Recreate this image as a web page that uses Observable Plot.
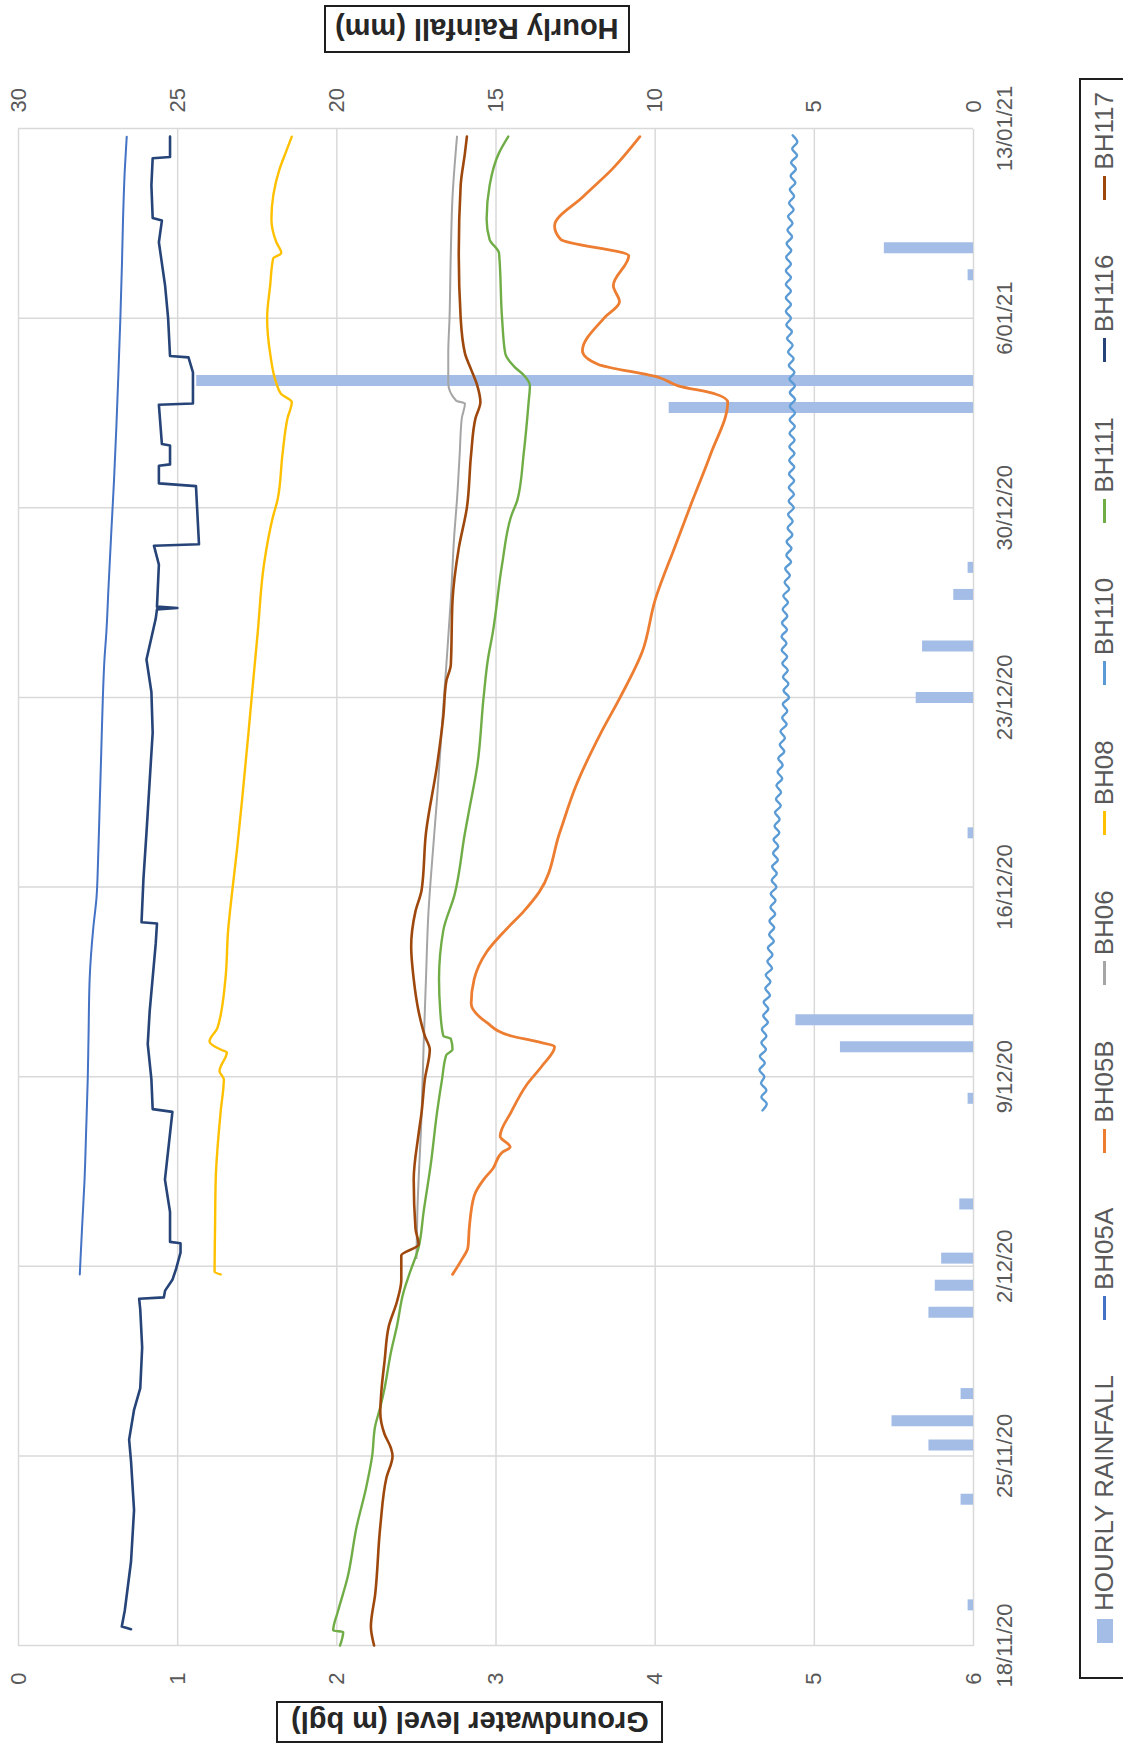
<!DOCTYPE html>
<html>
<head>
<meta charset="utf-8">
<script src="https://cdn.jsdelivr.net/npm/d3@7"></script>
<script src="https://cdn.jsdelivr.net/npm/@observablehq/plot@0.6"></script>
<style>
  html, body { margin: 0; padding: 0; background: #fff; width: 1123px; height: 1760px; overflow: hidden; }
  /* the sheet is laid out landscape and turned a quarter turn onto the portrait page */
  #sheet { position: absolute; left: 0; top: 0; width: 1760px; height: 1123px; background: #fff;
           transform-origin: 0 0; transform: translate(0, 1760px) rotate(-90deg);
           font-family: "Liberation Sans", Arial, sans-serif; color: #595959; }
  #chart { position: absolute; left: 0; top: 0; }
  .axis-title { position: absolute; box-sizing: border-box; border: 2px solid #1e1e1e; background: #fff;
                display: flex; align-items: center; justify-content: center; }
  .axis-title span { writing-mode: vertical-rl; transform: rotate(180deg); white-space: nowrap;
                     font-weight: bold; font-size: 29px; color: #262626; }
  #legend { position: absolute; left: 81px; top: 1079px; width: 1601px; height: 70px; box-sizing: border-box;
            border: 2px solid #1e1e1e; border-bottom: none; display: flex; align-items: flex-start;
            justify-content: space-between; padding: 8px 12px 0 34px; font-size: 26px; color: #595959; }
  .item { display: flex; align-items: center; white-space: nowrap; }
  .sw { display: inline-block; width: 24px; height: 16px; margin-right: 8px; }
  .ln { display: inline-block; width: 24px; height: 3px; margin-right: 6px; }
</style>
</head>
<body>
<div id="sheet">
  <div id="chart"></div>
  <div class="axis-title" style="left:17px; top:276px; width:42px; height:387px;"><span>Groundwater level (m bgl)</span></div>
  <div class="axis-title" style="left:1707px; top:324px; width:48px; height:306px;"><span>Hourly Rainfall (mm)</span></div>
  <div id="legend"></div>
</div>
<script>
// Monitoring period: 18 Nov 2020 to 13 Jan 2021; times are days after the start.
const startDate = Date.UTC(2020, 10, 18);
const dateTicks = [0, 7, 14, 21, 28, 35, 42, 49, 56];
const levelTicks = [0, 1, 2, 3, 4, 5, 6];
const rainPerMetre = 5; // 1 m on the level axis = 5 mm on the rainfall axis

// Hourly rainfall totals: [day, mm]
const rainfall = [
  [1.5, 0.17], [5.4, 0.39], [7.4, 1.4], [8.3, 2.56], [9.3, 0.39], [12.3, 1.4], [13.3, 1.2],
  [14.3, 1.0], [16.3, 0.43], [20.2, 0.17], [22.1, 4.18], [23.1, 5.58], [30.0, 0.17],
  [35.0, 1.8], [36.9, 1.6], [38.8, 0.62], [39.8, 0.17], [45.7, 9.56], [46.7, 24.4],
  [50.6, 0.17], [51.6, 2.8]
];

// Groundwater levels, metres below ground: [day, m bgl]
const bh05a = [
  [13.7, 0.385], [15.5, 0.40], [17.2, 0.415], [19, 0.425], [20.9, 0.435], [22.5, 0.44], [24.6, 0.447],
  [26.5, 0.47], [27.6, 0.49], [29, 0.50], [31, 0.51], [33, 0.52], [35, 0.53], [36.4, 0.54],
  [37.4, 0.552], [39, 0.565], [41.1, 0.583], [43, 0.60], [45, 0.615], [47, 0.628], [49, 0.64],
  [51, 0.65], [52.7, 0.657], [54.5, 0.668], [55.7, 0.68]
];
const bh05b = [
  [13.7, 2.727], [14.2, 2.78], [14.7, 2.824], [15.4, 2.832], [16.6, 2.863], [17.2, 2.922], [17.6, 2.98],
  [18.2, 3.038], [18.4, 3.089], [18.8, 3.026], [19.7, 3.096], [20.7, 3.193], [21.4, 3.29], [22.1, 3.368],
  [22.3, 3.252], [22.5, 3.096], [23.0, 2.941], [23.7, 2.844], [24.6, 2.863], [25.6, 2.941], [26.4, 3.058],
  [27.1, 3.174], [27.8, 3.27], [30, 3.40], [31.7, 3.50], [33.7, 3.66], [35, 3.78], [36.7, 3.92],
  [38.6, 4.0], [40.5, 4.12], [42.2, 4.23], [44, 4.35], [45.9, 4.456], [46.2, 4.378], [46.5, 4.145],
  [46.8, 4.029], [47.3, 3.64], [47.8, 3.543], [49, 3.679], [49.6, 3.776], [50.2, 3.737], [51.3, 3.834],
  [51.9, 3.407], [52.4, 3.368], [53.5, 3.55], [54.5, 3.73], [55.7, 3.904]
];
const bh06 = [
  [14.3, 2.50], [16, 2.506], [19.7, 2.533], [22.1, 2.545], [24.6, 2.56], [27.1, 2.576], [28.3, 2.59],
  [31.3, 2.63], [34, 2.661], [36.2, 2.688], [38.6, 2.716], [41.1, 2.739], [42.3, 2.755], [44, 2.772],
  [45.3, 2.785], [45.85, 2.805], [45.95, 2.75], [46.6, 2.70], [47.7, 2.70], [49, 2.708], [51.4, 2.716],
  [53.5, 2.727], [55.7, 2.755]
];
const bh08 = [
  [13.7, 1.27], [13.8, 1.232], [15.5, 1.235], [17.2, 1.239], [19.7, 1.27], [20.9, 1.29], [21.2, 1.263],
  [21.9, 1.309], [22.0, 1.27], [22.3, 1.20], [22.8, 1.25], [24.6, 1.30], [26.4, 1.317], [27.7, 1.34],
  [29.5, 1.375], [31.3, 1.406], [33.7, 1.445], [35, 1.465], [37.4, 1.503], [39.9, 1.542], [41.7, 1.60],
  [42.3, 1.628], [44.0, 1.659], [45.3, 1.69], [45.9, 1.717], [46.2, 1.65], [46.6, 1.62], [47.7, 1.581],
  [49, 1.562], [50.2, 1.581], [51.2, 1.60], [51.4, 1.651], [51.8, 1.62], [52.65, 1.589], [54.5, 1.64],
  [55.1, 1.678], [55.7, 1.717]
];
// BH110 is logged every 6 hours from day 19.75 and shows the tidal swing
const bh110Start = 19.75;
const bh110Step = 0.25;
const bh110 = [
  4.674,
  4.701, 4.667, 4.699, 4.665,  4.686, 4.655, 4.689, 4.658,  4.696, 4.667, 4.699, 4.670,
  4.708, 4.679, 4.711, 4.682,  4.721, 4.692, 4.724, 4.695,  4.734, 4.705, 4.737, 4.708,
  4.746, 4.716, 4.748, 4.718,  4.754, 4.724, 4.756, 4.726,  4.762, 4.732, 4.764, 4.735,
  4.771, 4.741, 4.773, 4.744,  4.780, 4.750, 4.782, 4.753,  4.789, 4.759, 4.791, 4.762,
  4.798, 4.769, 4.801, 4.773,  4.811, 4.783, 4.815, 4.787,  4.826, 4.798, 4.830, 4.802,
  4.841, 4.807, 4.837, 4.803,  4.833, 4.799, 4.829, 4.795,  4.825, 4.794, 4.828, 4.797,
  4.830, 4.801, 4.834, 4.805,  4.842, 4.813, 4.846, 4.817,  4.854, 4.824, 4.856, 4.826,
  4.862, 4.832, 4.864, 4.835,  4.871, 4.839, 4.872, 4.840,  4.873, 4.841, 4.874, 4.842,
  4.875, 4.843, 4.876, 4.844,  4.877, 4.845, 4.878, 4.846,  4.879, 4.846, 4.878, 4.844,
  4.875, 4.840, 4.870, 4.835,  4.864, 4.829, 4.859, 4.824,  4.853, 4.821, 4.853, 4.821,
  4.853, 4.821, 4.853, 4.821,  4.853, 4.823, 4.855, 4.826,  4.860, 4.831, 4.863, 4.835,
  4.870, 4.841, 4.873, 4.846,  4.881, 4.851, 4.884, 4.854,  4.891, 4.861, 4.893, 4.864
];
const bh111 = [
  [0, 2.02], [0.5, 2.04], [0.55, 1.977], [1.3, 2.009], [2.5, 2.067], [4.4, 2.125], [5.8, 2.183],
  [7.0, 2.222], [8.1, 2.241], [8.8, 2.273], [9.5, 2.30], [10.8, 2.339], [11.8, 2.378], [13.0, 2.417],
  [13.7, 2.455], [14.7, 2.514], [16, 2.545], [17.8, 2.591], [19.7, 2.63], [20.9, 2.661], [21.8, 2.688],
  [22.0, 2.727], [22.4, 2.716], [22.5, 2.669], [23.4, 2.65], [24.6, 2.642], [26.4, 2.669], [27.7, 2.739],
  [30, 2.805], [30.8, 2.83], [32.5, 2.883], [35, 2.922], [36.4, 2.949], [37.4, 2.98], [39.9, 3.038],
  [41.7, 3.096], [42.3, 3.135], [44, 3.174], [45.9, 3.205], [46.5, 3.213], [46.9, 3.174], [47.2, 3.116],
  [47.7, 3.058], [49, 3.038], [51.4, 3.019], [51.9, 2.96], [52.65, 2.941], [53.9, 2.96], [55.1, 3.019],
  [55.7, 3.077]
];
const bh116 = [
  [0.6, 0.707], [0.7, 0.649], [1.3, 0.668], [3.1, 0.707], [5.0, 0.726], [6.8, 0.707], [7.6, 0.695],
  [8.7, 0.726], [9.5, 0.765], [11.0, 0.777], [12.4, 0.765], [12.8, 0.758], [12.85, 0.913], [13.1, 0.921],
  [13.5, 0.967], [13.9, 0.99], [14.5, 1.018], [14.85, 1.018], [14.9, 0.952], [16.0, 0.952], [17.2, 0.92],
  [18.9, 0.952], [19.7, 0.967], [19.8, 0.843], [20.9, 0.835], [22.2, 0.812], [23.4, 0.824], [25.9, 0.862],
  [26.65, 0.87], [26.7, 0.773], [28.3, 0.785], [30, 0.804], [31.9, 0.824], [33.7, 0.843], [35.2, 0.835],
  [36.4, 0.804], [37.9, 0.862], [38.25, 0.87], [38.3, 0.998], [38.35, 0.87], [39.9, 0.882], [40.6, 0.851],
  [40.65, 1.134], [42.8, 1.115], [42.9, 0.882], [43.55, 0.882], [43.6, 0.952], [44.3, 0.952], [44.35, 0.901],
  [45.8, 0.882], [45.85, 1.096], [47.0, 1.096], [47.55, 1.068], [47.6, 0.952], [49.0, 0.94], [50.2, 0.921],
  [51.8, 0.882], [52.6, 0.901], [52.7, 0.843], [53.9, 0.835], [54.9, 0.843], [54.95, 0.952], [55.7, 0.952]
];
const bh117 = [
  [0, 2.234], [0.7, 2.214], [1.9, 2.241], [4.4, 2.273], [6.2, 2.312], [7.0, 2.35], [7.3, 2.339],
  [7.8, 2.30], [8.6, 2.273], [9.4, 2.28], [10.5, 2.30], [11.8, 2.327], [12.7, 2.378], [13.5, 2.405],
  [14.4, 2.405], [14.8, 2.514], [15.4, 2.494], [17.2, 2.483], [18.9, 2.514], [19.7, 2.533], [20.9, 2.553],
  [22.0, 2.584], [22.5, 2.553], [23.4, 2.514], [24.6, 2.483], [25.8, 2.467], [27.1, 2.494], [27.9, 2.533],
  [30, 2.56], [32.5, 2.63], [34.3, 2.669], [35.6, 2.688], [36.2, 2.716], [38.6, 2.727], [40.5, 2.766],
  [42, 2.817], [44, 2.844], [45.3, 2.871], [45.9, 2.902], [46.5, 2.883], [47.1, 2.844], [47.7, 2.805],
  [49, 2.778], [51.4, 2.766], [53.9, 2.778], [55.1, 2.805], [55.7, 2.817]
];

const seriesNames  = ["BH05A", "BH05B", "BH06", "BH08", "BH110", "BH111", "BH116", "BH117"];
const seriesColors = ["#4472C4", "#ED7D31", "#A5A5A5", "#FFC000", "#5B9BD5", "#70AD47", "#264478", "#9E480E"];
const seriesWidths = [2, 2.8, 2, 2.4, 2.4, 2.4, 2.6, 2.6];
const seriesCurves = ["monotone-x", "monotone-x", "monotone-x", "monotone-x", "catmull-rom", "monotone-x", "linear", "monotone-x"];
const rainColor = "#A3BDE6";
const rainLabel = "HOURLY RAINFALL";

const toDate = d => new Date(startDate + d * 864e5);
const bh110Points = bh110.map((v, i) => [bh110Start + i * bh110Step, v]);
const seriesData = [bh05a, bh05b, bh06, bh08, bh110Points, bh111, bh116, bh117];

const lineMarks = seriesNames.map((name, i) =>
  Plot.line(seriesData[i], {
    x: d => toDate(d[0]),
    y: d => d[1],
    stroke: seriesColors[i],
    strokeWidth: seriesWidths[i],
    curve: seriesCurves[i]
  })
);

const chart = Plot.plot({
  width: 1760,
  height: 1123,
  marginLeft: 114,
  marginRight: 129,
  marginTop: 18,
  marginBottom: 150,
  style: { fontFamily: '"Liberation Sans", Arial, sans-serif', fontSize: "22px", color: "#595959", background: "#fff" },
  x: { type: "utc", domain: [toDate(0), toDate(56)] },
  y: { domain: [6, 0] },
  marks: [
    Plot.gridX(dateTicks.map(toDate), { stroke: "#d9d9d9", strokeOpacity: 1, strokeWidth: 1.5 }),
    Plot.gridY(levelTicks, { stroke: "#d9d9d9", strokeOpacity: 1, strokeWidth: 1.5 }),
    Plot.ruleX(rainfall, {
      x: d => toDate(d[0]),
      y1: 6,
      y2: d => 6 - d[1] / rainPerMetre,
      stroke: rainColor,
      strokeWidth: 11,
      strokeLinecap: "butt"
    }),
    ...lineMarks,
    Plot.axisX(dateTicks.map(toDate), {
      tickSize: 0, tickPadding: 23, label: null,
      tickFormat: d3.utcFormat("%-d/%m/%y")
    }),
    Plot.axisY(levelTicks, { anchor: "left", tickSize: 0, tickPadding: 27, label: null, tickFormat: v => String(v) }),
    Plot.axisY(levelTicks, {
      anchor: "right", tickSize: 0, tickPadding: 16, label: null,
      tickFormat: v => String((6 - v) * rainPerMetre)
    })
  ]
});
document.getElementById("chart").appendChild(chart);

// legend row
const legend = document.getElementById("legend");
const rainItem = document.createElement("div");
rainItem.className = "item";
rainItem.innerHTML = `<span class="sw" style="background:${rainColor}"></span>${rainLabel}`;
legend.appendChild(rainItem);
seriesNames.forEach((name, i) => {
  const it = document.createElement("div");
  it.className = "item";
  it.innerHTML = `<span class="ln" style="background:${seriesColors[i]}"></span>${name}`;
  legend.appendChild(it);
});
</script>
</body>
</html>
